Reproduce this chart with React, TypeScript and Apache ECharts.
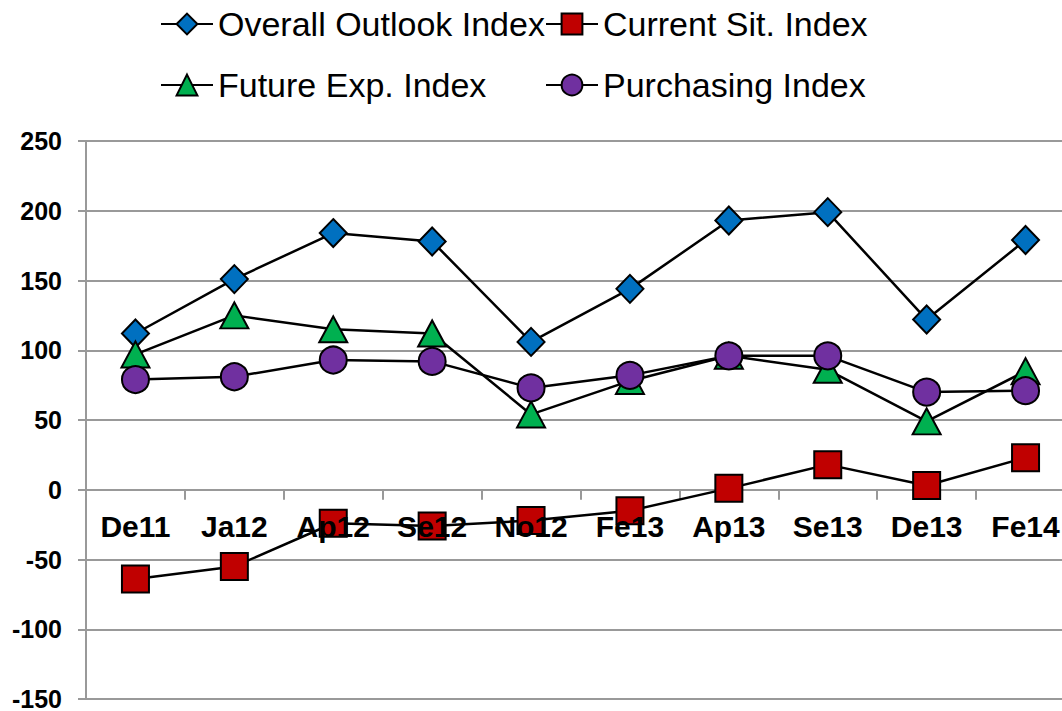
import React, { useEffect, useRef } from "react";
import * as echarts from "echarts";

const categories = ["De11", "Ja12", "Ap12", "Se12", "No12", "Fe13", "Ap13", "Se13", "De13", "Fe14"];
const overallOutlook = [112, 151, 184, 178, 106, 144, 193, 199, 122, 179];
const currentSit = [-64, -55, -24, -26, -22, -15, 1, 18, 3, 23];
const futureExp = [97, 125, 115, 112, 54, 78, 96, 86, 49, 85];
const purchasing = [79, 81, 93, 92, 73, 82, 96, 96, 70, 71];
const yTicks = { min: -150, max: 250, interval: 50 };
const categoryLabelBase = 0;

export default function App() {
  const ref = useRef<HTMLDivElement>(null);
  useEffect(() => {
    if (!ref.current) return;
    const chart = echarts.init(ref.current, undefined, { renderer: "svg" });
    const font = "'Liberation Sans', Arial, sans-serif";
    const lineStyle = { color: "#000", width: 2.5 };
    const mk = (color: string) => ({ color, borderColor: "#000", borderWidth: 2 });
    const legendBase = {
      itemWidth: 52,
      itemHeight: 26,
      itemGap: 0,
      textStyle: { fontSize: 34, fontFamily: font, color: "#000" },
    };
    chart.setOption({
      animation: false,
      backgroundColor: "#fff",
      legend: [
        { ...legendBase, data: ["Overall Outlook Index"], left: 155, top: 2 },
        { ...legendBase, data: ["Current Sit. Index"], left: 540, top: 2 },
        { ...legendBase, data: ["Future Exp. Index"], left: 155, top: 63 },
        { ...legendBase, data: ["Purchasing Index"], left: 540, top: 63 },
      ],
      grid: {
        left: 86,
        right: -13,
        top: 141,
        bottom: 12,
        containLabel: false,
        outerBoundsMode: "none",
      },
      xAxis: {
        type: "category",
        data: categories,
        boundaryGap: true,
        axisLine: { show: true, onZero: true, lineStyle: { color: "#999", width: 2 } },
        axisTick: { show: true, length: 10, lineStyle: { color: "#999", width: 2 } },
        axisLabel: { show: false },
        splitLine: { show: false },
      },
      yAxis: {
        type: "value",
        min: yTicks.min,
        max: yTicks.max,
        interval: yTicks.interval,
        axisLine: { show: true, lineStyle: { color: "#999", width: 2 } },
        axisTick: { show: true, length: 8, lineStyle: { color: "#999", width: 2 } },
        axisLabel: {
          margin: 24,
          fontSize: 25,
          fontWeight: "bold",
          fontFamily: font,
          color: "#000",
        },
        splitLine: { show: true, lineStyle: { color: "#999", width: 2 } },
      },
      series: [
        {
          name: "Overall Outlook Index",
          type: "line",
          data: overallOutlook,
          symbol: "diamond",
          symbolSize: [27, 28],
          lineStyle,
          itemStyle: mk("#0070C0"),
        },
        {
          name: "Current Sit. Index",
          type: "line",
          data: currentSit,
          symbol: "rect",
          symbolSize: 27,
          lineStyle,
          itemStyle: mk("#C00000"),
        },
        {
          name: "Future Exp. Index",
          type: "line",
          data: futureExp,
          symbol: "triangle",
          symbolSize: [28, 26],
          lineStyle,
          itemStyle: mk("#00B050"),
        },
        {
          name: "Purchasing Index",
          type: "line",
          data: purchasing,
          symbol: "circle",
          symbolSize: 27,
          lineStyle,
          itemStyle: mk("#7030A0"),
        },
        {
          name: "categoryLabels",
          type: "scatter",
          data: categories.map((c) => [c, categoryLabelBase]),
          symbolSize: 1,
          z: 10,
          silent: true,
          itemStyle: { color: "rgba(0,0,0,0)", opacity: 1 },
          label: {
            show: true,
            position: "bottom",
            distance: 21,
            formatter: (p: any) => p.value[0],
            fontSize: 30,
            fontWeight: "bold",
            fontFamily: font,
            color: "#000000",
            opacity: 1,
            textBorderWidth: 0,
          },
        },
      ],
    });
    return () => chart.dispose();
  }, []);
  return <div ref={ref} style={{ width: 1062, height: 711, position: "absolute", left: 0, top: 0 }} />;
}
